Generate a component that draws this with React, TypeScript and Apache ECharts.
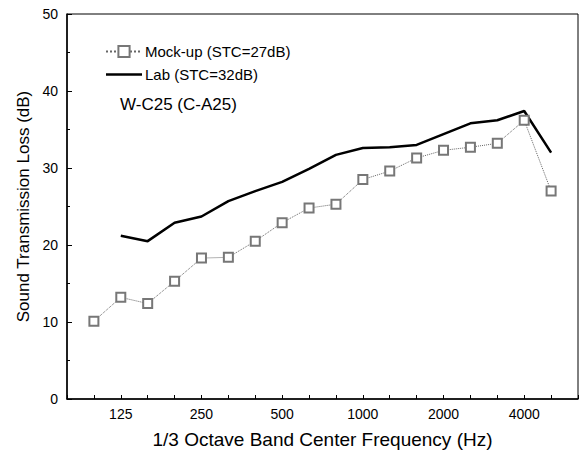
import React, { useEffect, useRef } from "react";
import * as echarts from "echarts";

// 1/3 octave bands shown on the axis (index 0 = 80 Hz ... index 19 = 6300 Hz)
const axisBands = ["80", "100", "125", "160", "200", "250", "315", "400", "500", "630", "800", "1000", "1250", "1600", "2000", "2500", "3150", "4000", "5000", "6300"];
const labelledBands = ["125", "250", "500", "1000", "2000", "4000"];

// Measured bands (100 Hz .. 5000 Hz)
const bands = ["100", "125", "160", "200", "250", "315", "400", "500", "630", "800", "1000", "1250", "1600", "2000", "2500", "3150", "4000", "5000"];
const mockup = [10.1, 13.2, 12.4, 15.3, 18.3, 18.4, 20.5, 22.9, 24.8, 25.3, 28.5, 29.6, 31.3, 32.3, 32.7, 33.2, 36.2, 27.0];
const lab = [null, 21.2, 20.5, 22.9, 23.7, 25.7, 27.0, 28.2, 29.9, 31.7, 32.6, 32.7, 33.0, 34.4, 35.8, 36.2, 37.4, 32.0];

const FONT = "'Liberation Sans', Arial, sans-serif";

export default function App() {
  const ref = useRef<HTMLDivElement>(null);
  useEffect(() => {
    if (!ref.current) return;
    const chart = echarts.init(ref.current, null, { renderer: "svg" });
    const toPairs = (vals: (number | null)[]) =>
      bands
        .map((b, i) => [axisBands.indexOf(b), vals[i]])
        .filter((p) => p[1] !== null);
    chart.setOption({
      animation: false,
      textStyle: { fontFamily: FONT },
      grid: {
        left: 67,
        right: 5,
        top: 14,
        bottom: 60,
        show: true,
        borderColor: "#000",
        borderWidth: 1,
        backgroundColor: "transparent",
      },
      legend: {
        orient: "vertical",
        left: 100,
        top: 39,
        itemWidth: 36,
        itemHeight: 14,
        itemGap: 8,
        textStyle: { fontSize: 15, color: "#000", fontFamily: FONT, padding: [0, 0, 0, -2] },
        data: [
          { name: "Mock-up (STC=27dB)" },
          { name: "Lab (STC=32dB)", icon: "path://M0,0 L36,0 L36,2.5 L0,2.5 Z" },
        ],
      },
      xAxis: {
        type: "value",
        min: 0,
        max: axisBands.length - 1,
        interval: 1,
        name: "1/3 Octave Band Center Frequency (Hz)",
        nameLocation: "middle",
        nameGap: 31,
        nameTextStyle: { fontSize: 19, color: "#000", fontFamily: FONT },
        axisLine: { lineStyle: { color: "#000", width: 1.5 } },
        axisTick: { inside: true, length: 4, lineStyle: { color: "#000" } },
        axisLabel: {
          color: "#000",
          fontSize: 14,
          margin: 8,
          fontFamily: FONT,
          formatter: (v: number) => {
            const b = axisBands[Math.round(v)];
            return labelledBands.includes(b) ? b : "";
          },
        },
        splitLine: { show: false },
      },
      yAxis: {
        type: "value",
        min: 0,
        max: 50,
        interval: 10,
        name: "Sound Transmission Loss (dB)",
        nameLocation: "middle",
        nameGap: 30,
        nameTextStyle: { fontSize: 17, color: "#000", fontFamily: FONT },
        axisLine: { show: true, lineStyle: { color: "#000", width: 1.5 } },
        axisTick: { show: true, inside: true, length: 5, lineStyle: { color: "#000" } },
        minorTick: { show: true, splitNumber: 2, length: 3, lineStyle: { color: "#000" } },
        axisLabel: { color: "#000", fontSize: 14, margin: 9, fontFamily: FONT },
        splitLine: { show: false },
      },
      graphic: [
        {
          type: "text",
          left: 120,
          top: 96,
          style: { text: "W-C25 (C-A25)", fontSize: 17, fill: "#000", fontFamily: FONT },
        },
      ],
      series: [
        {
          name: "Mock-up (STC=27dB)",
          type: "line",
          data: toPairs(mockup),
          symbol: "emptyRect",
          symbolSize: 9,
          showAllSymbol: true,
          itemStyle: { color: "#777", borderColor: "#777", borderWidth: 1 },
          lineStyle: { color: "#666", width: 1, type: "dotted" },
          z: 3,
        },
        {
          name: "Lab (STC=32dB)",
          type: "line",
          data: toPairs(lab),
          symbol: "none",
          itemStyle: { color: "#000" },
          lineStyle: { color: "#000", width: 2.5 },
          z: 2,
        },
      ],
    });
    return () => chart.dispose();
  }, []);
  return <div ref={ref} style={{ width: 583, height: 459, position: "absolute", left: 0, top: 0 }} />;
}
